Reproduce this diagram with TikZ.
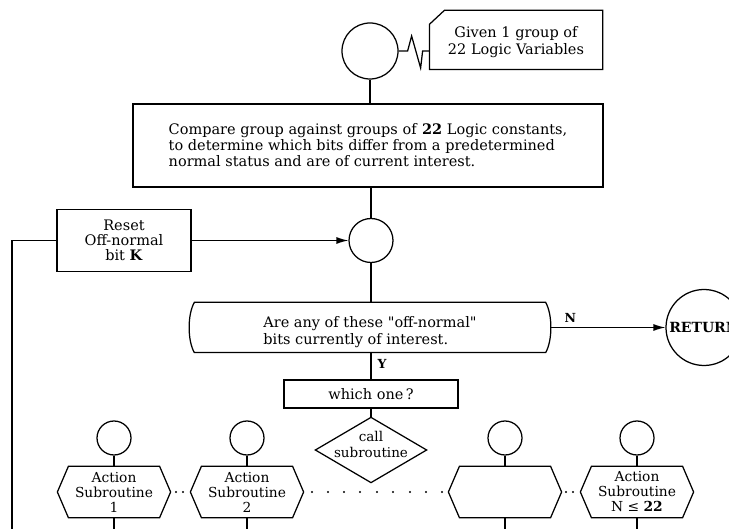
\documentclass[tikz,border=0pt]{standalone}
\usepackage{fontspec}
\setmainfont{DejaVu Serif}
\usetikzlibrary{arrows.meta}
\begin{document}
\begin{tikzpicture}[x=1pt,y=-1pt,line width=1.25pt,
  every node/.style={font=\fontsize{14.5}{16}\selectfont,inner sep=0pt},
  box/.style={draw,rectangle,align=center},
  conn/.style={draw,circle},
  ghost/.style={rectangle,align=center},
  hexfont/.style={font=\fontsize{13.8}{15}\selectfont},
  arr/.style={-{Latex[length=12pt,width=7pt]}},
  lbl/.style={font=\fontsize{12.5}{14}\selectfont\bfseries}]
\useasboundingbox (0,0) rectangle (729,529);
\clip (0,0) rectangle (729,529);

% entry connector and input description
\node[conn,minimum size=56pt] (start) at (370,51) {};
\node[ghost,minimum width=172pt,minimum height=58pt,font=\fontsize{14.5}{17}\selectfont,
      text height=35pt,text depth=5pt] (given) at (516,40)
  {Given 1 group of\\22 Logic Variables};
\draw ([yshift=-14pt]given.north west) -- ([xshift=15pt]given.north west)
  -- (given.north east) -- (given.south east) -- (given.south west) -- cycle;
\draw (start.east) -- ++(9,0) -- ++(4,-15) -- ++(9,32) -- ++(2,-17)
  -- (given.west |- start.east);

% comparison step
\node[box,minimum width=470pt,minimum height=83pt,align=left] (cmp) at (368,145.5)
  {Compare group against groups of \textbf{22} Logic constants,\\
   to determine which bits differ from a predetermined\\
   normal status and are of current interest.};
\draw (start) -- (start |- cmp.north);

% junction and reset loop
\node[conn,minimum size=44pt] (jn) at (371,240.5) {};
\node[box,minimum width=134pt,minimum height=62pt,font=\fontsize{14.5}{15}\selectfont] (reset) at (124,240.5)
  {Reset\\Off-normal\\bit \textbf{K}};
\draw (jn |- cmp.south) -- (jn);
\draw[arr] (reset.east) -- (jn.west);
\coordinate (lc) at (12,240.5);
\coordinate (lb) at (12,529);
\draw (reset.west) -- (lc) -- (lb);

% decision
\node[ghost,minimum width=350pt,minimum height=49pt,align=left,font=\fontsize{14.5}{17.5}\selectfont,
      text height=40pt,text depth=5pt] (dec) at (370,327.5)
  {Are any of these \textquotedbl off-normal\textquotedbl\\bits currently of interest.};
\draw (dec.north west) -- (dec.north east)
  .. controls ([xshift=7pt,yshift=-12pt]dec.north east) and ([xshift=7pt,yshift=12pt]dec.south east) .. (dec.south east)
  -- (dec.south west)
  .. controls ([xshift=-7pt,yshift=12pt]dec.south west) and ([xshift=-7pt,yshift=-12pt]dec.north west) .. cycle;
\draw (jn) -- (jn |- dec.north);

\node[conn,minimum size=76pt,font=\fontsize{14}{16}\selectfont\bfseries] (ret) at (704,327.5) {RETURN};
\draw[arr] ([xshift=5.25pt]dec.east) -- (ret.west) node[lbl,pos=0.17,above=4pt] {N};

% selection
\node[box,minimum width=174pt,minimum height=28pt] (which) at (371,394) {which one\,?};
\draw (dec.south -| which.north) -- (which.north) node[lbl,pos=0.42,right=6pt] {Y};

\node[ghost,minimum width=110pt,minimum height=64pt,font=\fontsize{13.5}{17}\selectfont,
      text height=20pt,text depth=4pt] (call) at (371,450) {call\\subroutine};
\draw (call.north) -- (call.east) -- (call.south) -- (call.west) -- cycle;
\draw (which.south) -- (call.north);

% action subroutines
\foreach \n/\x/\t in {1/114/{Action\\Subroutine\\1},
                      2/247/{Action\\Subroutine\\2},
                      3/505/{},
                      4/637/{Action\\Subroutine\\N ≤ \textbf{22}}}{
  \node[conn,minimum size=34pt] (c\n) at (\x,438) {};
  \node[ghost,hexfont,minimum width=112pt,minimum height=50pt] (h\n) at (\x,492) {\t};
  \draw (h\n.west) -- ([xshift=11pt]h\n.north west) -- ([xshift=-11pt]h\n.north east)
    -- (h\n.east) -- ([xshift=-11pt]h\n.south east) -- ([xshift=11pt]h\n.south west) -- cycle;
  \coordinate (b\n) at (\x,529);
  \draw (c\n) -- (h\n.north);
  \draw (h\n.south) -- (b\n);
}

% continuation dots
\foreach \x in {176,183,312,328,344,360,377,393,410,426,442,566,573}
  \fill (\x,492) circle (1.2pt);
\end{tikzpicture}
\end{document}
